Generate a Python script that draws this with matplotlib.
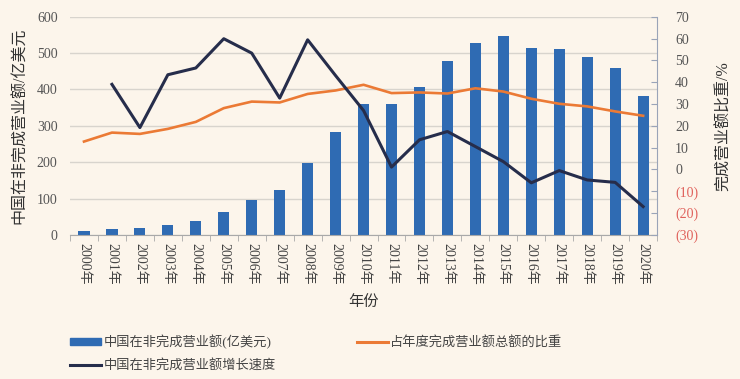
import matplotlib
matplotlib.use('Agg')
import matplotlib.pyplot as plt
import matplotlib.patches as mpatches
import matplotlib.lines as mlines
import numpy as np

plt.rcParams['font.family'] = ['Liberation Serif', 'Noto Sans CJK SC', 'DejaVu Sans']

BG = '#FCF5EB'
C_BAR = '#2F6BB3'
C_ORANGE = '#EB7A35'
C_NAVY = '#262D4B'
C_GRID = '#D8D4CD'
C_TXT = '#555555'
C_NEG = '#E0615B'

# ── Data ──────────────────────────────────────────────────────────────────────
years = [f'{y}年' for y in range(2000, 2021)]
turnover = [11, 16, 19, 27, 38, 63, 95, 124, 197, 282, 360,
            361, 408, 479, 529, 548, 514, 512, 488, 460, 383]
share = [12.8, 16.9, 16.3, 18.6, 21.8, 28.1, 31.1, 30.7, 34.6, 36.2, 38.8,
         35.0, 35.3, 34.8, 37.2, 35.7, 32.4, 30.1, 28.9, 26.6, 24.6]
growth = [np.nan, 39.0, 19.2, 43.4, 46.5, 59.9, 53.3, 32.7, 59.4, 43.0, 27.0,
          1.1, 13.6, 17.4, 10.5, 3.6, -6.1, -0.5, -4.8, -5.9, -17.0]
left_ticks = [0, 100, 200, 300, 400, 500, 600]
right_ticks = [-30, -20, -10, 0, 10, 20, 30, 40, 50, 60, 70]

# ── Figure ────────────────────────────────────────────────────────────────────
fig = plt.figure(figsize=(7.4, 3.79), dpi=100, facecolor=BG)
ax = fig.add_axes([0.0946, 0.380, 0.7934, 0.576], facecolor=BG)
x = np.arange(len(years))

ax.bar(x, turnover, width=0.4, color=C_BAR, zorder=2)
ax.set_xlim(-0.5, len(years) - 0.5)
ax.set_ylim(0, 600)
ax.set_yticks(left_ticks)
ax.yaxis.grid(True, color=C_GRID, lw=1.0, zorder=0)
ax.set_axisbelow(True)
ax.tick_params(axis='y', length=0, pad=9, labelsize=10, labelcolor=C_TXT)
for s in ['top', 'left', 'right']:
    ax.spines[s].set_visible(False)
ax.spines['bottom'].set_color('#A9A9A9')

ax.set_xticks(x)
ax.set_xticklabels(years, rotation=-90, fontsize=10, color='#444444')
ax.set_xticks(np.arange(-0.5, len(years)), minor=True)
ax.tick_params(axis='x', which='major', length=0, pad=6)
ax.tick_params(axis='x', which='minor', length=4, color='#A9A9A9')
ax.set_xlabel('年份', fontsize=11, color='#333333', labelpad=7)
ax.set_ylabel('中国在非完成营业额/亿美元', fontsize=11.5, color='#333333', labelpad=6)

# ── Right axis ────────────────────────────────────────────────────────────────
ax2 = ax.twinx()
ax2.plot(x, share, color=C_ORANGE, lw=1.9, zorder=3)
ax2.plot(x, growth, color=C_NAVY, lw=2.2, zorder=4)
ax2.set_ylim(-30, 70)
ax2.set_yticks(right_ticks)
ax2.set_yticklabels([f'({-t})' if t < 0 else f'{t}' for t in right_ticks])
for lab, t in zip(ax2.get_yticklabels(), right_ticks):
    lab.set_color(C_NEG if t < 0 else C_TXT)
ax2.tick_params(axis='y', direction='in', length=4, color='#9AA4B8', pad=13, labelsize=10)
for s in ['top', 'left', 'bottom']:
    ax2.spines[s].set_visible(False)
ax2.spines['right'].set_color('#9AA4B8')
ax2.set_ylabel('完成营业额比重/%', fontsize=11.5, color='#333333', labelpad=13)

# ── Legend ────────────────────────────────────────────────────────────────────
h_bar = mpatches.Patch(color=C_BAR, label='中国在非完成营业额(亿美元)')
h_navy = mlines.Line2D([], [], color=C_NAVY, lw=2.2, label='中国在非完成营业额增长速度')
h_orange = mlines.Line2D([], [], color=C_ORANGE, lw=2.2, label='占年度完成营业额总额的比重')
fig.legend(handles=[h_bar, h_navy, h_orange], ncol=2, loc='upper left',
           bbox_to_anchor=(0.095, 0.117), frameon=False, fontsize=9.5,
           handlelength=2.3, handleheight=0.35, handletextpad=0.2,
           labelspacing=0.75, columnspacing=6.2, borderpad=0, borderaxespad=0,
           labelcolor='#444444')

plt.savefig('out.png', dpi=100, facecolor=BG)
plt.close()
